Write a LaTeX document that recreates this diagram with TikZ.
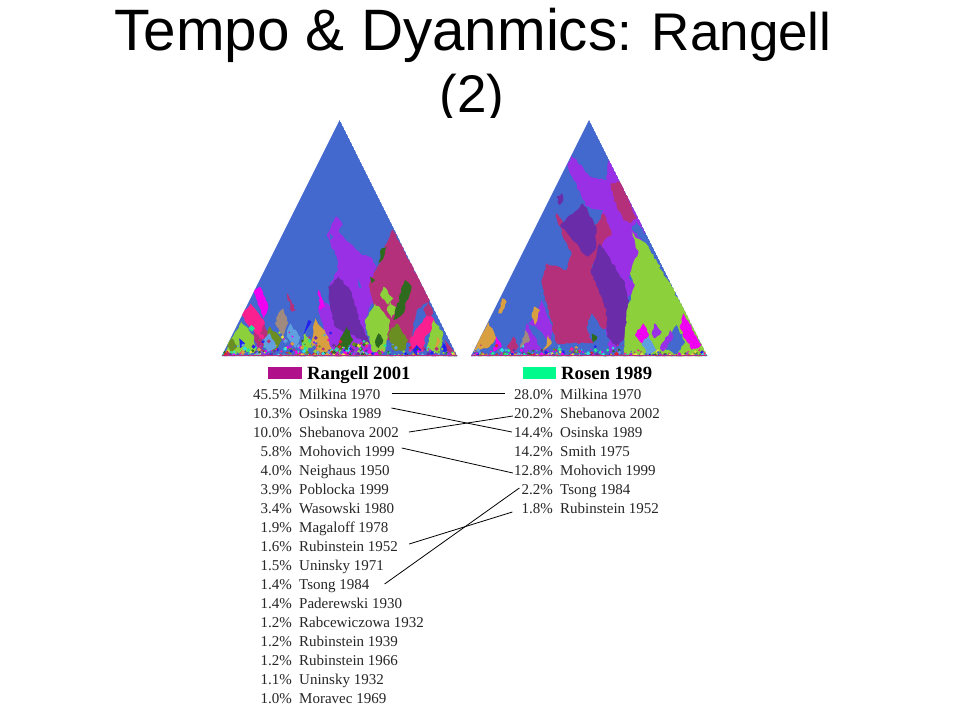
\documentclass[tikz,border=0pt]{standalone}
\usepackage{fontspec}
\usetikzlibrary{decorations.pathmorphing}
\setmainfont{Liberation Serif}
\newfontfamily\titlefont{Liberation Sans}
\definecolor{tblue}{HTML}{4368CE}
\definecolor{tpurple}{HTML}{9A30E6}
\definecolor{tcrim}{HTML}{B5307A}
\definecolor{tdark}{HTML}{6A2CA8}
\definecolor{tgreen}{HTML}{8CD03C}
\definecolor{tmag}{HTML}{F000F0}
\definecolor{tpink}{HTML}{FB2090}
\definecolor{ttan}{HTML}{D8A040}
\definecolor{tdgreen}{HTML}{2E6B1E}
\definecolor{tolive}{HTML}{6B8E23}
\definecolor{ttaupe}{HTML}{A08A80}
\definecolor{tcyan}{HTML}{30E0E0}
\definecolor{tsky}{HTML}{60A0E0}
\definecolor{tyel}{HTML}{E8E040}
\definecolor{tred}{HTML}{E02030}
\definecolor{tbright}{HTML}{2020F0}
\definecolor{tmint}{HTML}{20E890}
\definecolor{swatchL}{HTML}{B0108A}
\definecolor{swatchR}{HTML}{00FA8C}
\pgfmathdeclarerandomlist{cols}{{tmag}{tpink}{tgreen}{ttan}{tdgreen}{tolive}{tcyan}{tsky}{tyel}{tred}{tbright}{tmint}{tcrim}{tpurple}{tdark}{tblue}}
\newcommand{\speckle}[4]{% count, xmin, xmax, maxheight
  \foreach \k in {1,...,#1}{
    \pgfmathsetmacro\rx{#2+(#3-#2)*rnd}
    \pgfmathsetmacro\ry{734-#4*rnd*rnd}
    \pgfmathsetmacro\rs{2+5*rnd}
    \pgfmathrandomitem{\rc}{cols}
    \fill[\rc] (\rx,\ry) -- ++(\rs,\rs) -- ++(-\rs,\rs) -- ++(-\rs,-\rs) -- cycle;
  }}
\tikzset{
  pct/.style={anchor=base east,inner sep=0pt,text height=10pt,text depth=3pt,font=\fontsize{15}{16}\selectfont,text=black!85},
  nam/.style={anchor=base west,inner sep=0pt,text height=10pt,text depth=3pt,font=\fontsize{15}{16}\selectfont,text=black!85},
  head/.style={anchor=base west,inner sep=0pt,font=\bfseries\fontsize{18.7}{20}\selectfont},
  link/.style={draw=black,line width=0.8pt},
  patch/.style={x=0.33333pt,y=-0.33333pt},
  rough/.style={decorate,decoration={random steps,segment length=3pt,amplitude=1.1pt}}
}
\begin{document}
\begin{tikzpicture}[x=1pt,y=-1pt]
\useasboundingbox (0,0) rectangle (960,720);
\fill[white] (0,0) rectangle (960,720);
% title
\node[anchor=base,inner sep=0pt,font=\titlefont] (t1) at (473,50) {\fontsize{58.4}{60}\selectfont Tempo \& Dyanmics\fontsize{53}{60}\selectfont: Rangell};
\node[anchor=base,inner sep=0pt,font=\titlefont] (t2) at (472,112.5) {\fontsize{53}{60}\selectfont (2)};
\fill[white] (220,118) rectangle (707,130);
% left triangle
\begin{scope}[shift={(210pt,-110pt)},patch]
\clip (389,30) -- (742,738) -- (35,738) -- cycle;
\fill[tblue] (389,30) -- (742,738) -- (35,738) -- cycle;
\pgfmathsetseed{3}
\fill[tpurple,rough] (380,320) -- (398,345) -- (385,362) -- (420,400) -- (450,430) -- (480,440) -- (500,470) -- (490,500) -- (480,520) -- (500,560) -- (475,600) -- (465,640) -- (470,680) -- (490,730) -- (350,730) -- (340,650) -- (325,590) -- (340,570) -- (365,590) -- (360,520) -- (385,480) -- (380,440) -- (350,375) -- (365,340) -- cycle;
\fill[tcrim,rough] (548,358) -- (660,570) -- (620,600) -- (600,700) -- (520,690) -- (500,620) -- (480,545) -- (478,520) -- (510,460) -- (530,400) -- cycle;
\fill[tdark,rough] (385,500) -- (420,540) -- (440,600) -- (450,640) -- (480,700) -- (400,665) -- (375,650) -- (360,590) -- (355,530) -- cycle;
\fill[tgreen,rough] (495,580) -- (540,630) -- (525,725) -- (485,725) -- (465,630) -- cycle;
\fill[tgreen,rough] (520,530) -- (550,565) -- (535,585) -- (510,555) -- cycle;
\fill[tgreen,rough] (540,575) -- (560,595) -- (545,625) -- (530,600) -- cycle;
\fill[tpink,rough] (655,605) -- (680,645) -- (645,680) -- (640,725) -- (605,720) -- (600,690) -- (625,650) -- cycle;
\fill[tcrim,rough] (655,575) -- (670,610) -- (655,620) -- (640,600) -- cycle;
\fill[tgreen,rough] (670,630) -- (700,670) -- (690,730) -- (650,720) -- (660,670) -- cycle;
\fill[tbright,rough] (695,695) -- (715,720) -- (700,730) -- cycle;
\fill[ttan,rough] (680,680) -- (690,695) -- (675,720) -- cycle;
\fill[tbright,rough] (620,705) -- (635,720) -- (620,735) -- (608,720) -- cycle;
\fill[tcrim] (705,690) -- (742,738) -- (715,738) -- cycle;
\fill[tdgreen,rough] (585,510) -- (605,530) -- (580,610) -- (550,630) -- (560,590) -- cycle;
\fill[tolive,rough] (560,640) -- (595,690) -- (585,720) -- (550,720) -- (535,670) -- cycle;
\fill[tdgreen,rough] (515,415) -- (530,410) -- (520,445) -- (505,460) -- cycle;
\fill[tdgreen] (480,500) -- (495,510) -- (485,520) -- cycle;
\fill[tdgreen,rough] (505,670) -- (520,690) -- (505,715) -- (495,695) -- cycle;
\fill[tmag,rough] (130,540) -- (150,530) -- (175,590) -- (160,625) -- cycle;
\fill[tcrim,rough] (150,625) -- (180,680) -- (150,730) -- (130,680) -- cycle;
\fill[tpink,rough] (120,580) -- (165,640) -- (155,660) -- (170,700) -- (110,640) -- (95,615) -- cycle;
\fill[tgreen,rough] (95,635) -- (130,675) -- (140,725) -- (45,735) -- (60,690) -- cycle;
\fill[tolive,rough] (65,685) -- (82,710) -- (65,730) -- (52,710) -- cycle;
\fill[tbright] (88,685) -- (105,700) -- (90,715) -- cycle;
\fill[tmint] (125,645) -- (135,655) -- (125,665) -- (115,655) -- cycle;
\fill[tcrim,rough] (230,550) -- (245,580) -- (258,600) -- (245,605) -- cycle;
\fill[ttaupe,rough] (220,595) -- (235,640) -- (220,680) -- (195,640) -- (205,610) -- cycle;
\fill[tsky,rough] (240,640) -- (270,680) -- (255,715) -- (230,680) -- cycle;
\fill[ttan,rough] (315,625) -- (350,675) -- (365,715) -- (330,735) -- (305,705) -- cycle;
\fill[tgreen,rough] (285,670) -- (305,700) -- (290,730) -- (275,700) -- cycle;
\fill[tbright] (295,630) -- (305,635) -- (280,675) -- cycle;
\fill[tolive,rough] (180,650) -- (215,690) -- (190,730) -- (165,700) -- cycle;
\fill[tsky,rough] (155,690) -- (180,670) -- (200,710) -- (170,725) -- cycle;
\fill[tdgreen,rough] (410,650) -- (430,690) -- (410,725) -- (380,710) -- cycle;
\fill[tmag,rough] (325,540) -- (345,590) -- (330,600) -- cycle;
\fill[tblue] (360,370) -- (370,380) -- (360,390) -- cycle;
\fill[tblue] (445,505) -- (455,535) -- (445,530) -- cycle;
\pgfmathsetseed{7}
\speckle{260}{40}{740}{40}
\speckle{130}{140}{470}{90}
\speckle{60}{370}{480}{55}
\fill[tcrim] (35,735) rectangle (742,738);
\end{scope}
% right triangle
\begin{scope}[shift={(460pt,-110pt)},patch]
\clip (387,30) -- (742,738) -- (33,738) -- cycle;
\fill[tblue] (387,30) -- (742,738) -- (33,738) -- cycle;
\pgfmathsetseed{5}
\fill[tpurple,rough] (322,165) -- (335,135) -- (390,200) -- (440,210) -- (445,150) -- (535,320) -- (555,365) -- (530,450) -- (505,500) -- (530,530) -- (500,570) -- (500,680) -- (450,730) -- (390,420) -- (430,300) -- (380,290) -- (365,260) -- cycle;
\fill[tcrim,rough] (450,225) -- (480,215) -- (530,325) -- (510,340) -- (490,330) -- (470,290) -- cycle;
\fill[tpurple,rough] (245,570) -- (280,660) -- (270,695) -- (230,650) -- (205,640) -- (235,600) -- cycle;
\fill[tcrim,rough] (288,310) -- (330,360) -- (370,400) -- (430,310) -- (455,370) -- (420,410) -- (395,470) -- (440,570) -- (445,640) -- (400,700) -- (290,700) -- (270,620) -- (245,520) -- (260,460) -- (320,480) -- (335,430) -- (305,370) -- cycle;
\fill[tdark,rough] (300,345) -- (340,310) -- (370,280) -- (410,350) -- (405,420) -- (380,440) -- (330,380) -- cycle;
\fill[tdark,rough] (290,260) -- (305,250) -- (310,270) -- (298,285) -- cycle;
\fill[tdark,rough] (420,400) -- (490,510) -- (510,590) -- (500,680) -- (470,710) -- (440,680) -- (440,600) -- (392,480) -- cycle;
\fill[tgreen,rough] (515,365) -- (530,385) -- (550,395) -- (570,420) -- (680,610) -- (742,738) -- (490,738) -- (500,600) -- (525,525) -- (510,490) -- (535,430) -- (525,395) -- cycle;
\fill[tblue,rough] (530,330) -- (555,375) -- (548,392) -- (515,358) -- cycle;
\fill[tmag,rough] (670,610) -- (725,705) -- (695,720) -- (660,655) -- cycle;
\fill[tblue,rough] (650,645) -- (675,695) -- (650,735) -- (610,710) -- cycle;
\fill[tpurple,rough] (630,660) -- (640,680) -- (610,725) -- (600,715) -- cycle;
\fill[tblue,rough] (395,610) -- (450,690) -- (410,730) -- (380,650) -- cycle;
\fill[tdgreen,rough] (395,670) -- (412,680) -- (400,700) -- cycle;
\fill[tmag,rough] (550,640) -- (568,675) -- (545,700) -- (525,675) -- cycle;
\fill[tsky,rough] (565,675) -- (590,720) -- (565,735) -- (545,705) -- cycle;
\fill[tpurple,rough] (585,640) -- (605,665) -- (585,685) -- (575,670) -- cycle;
\fill[ttan,rough] (85,635) -- (110,685) -- (80,715) -- (40,725) -- (65,670) -- cycle;
\fill[ttan,rough] (125,565) -- (140,575) -- (125,610) -- (115,610) -- cycle;
\fill[ttan,rough] (225,590) -- (240,600) -- (225,645) -- (215,620) -- cycle;
\fill[tmag,rough] (110,680) -- (125,710) -- (100,725) -- cycle;
\fill[tcrim,rough] (160,680) -- (175,710) -- (155,730) -- (140,710) -- cycle;
\fill[tpurple,rough] (200,640) -- (245,720) -- (190,720) -- cycle;
\fill[ttaupe,rough] (195,660) -- (210,690) -- (180,715) -- cycle;
\fill[ttan,rough] (265,675) -- (275,700) -- (250,725) -- cycle;
\pgfmathsetseed{11}
\speckle{230}{33}{500}{35}
\speckle{90}{500}{740}{18}
\fill[tcrim] (33,735) rectangle (742,738);
\end{scope}
% legend headers
\fill[swatchL] (268,367) rectangle (302,379);
\node[head] (hl) at (307,379) {Rangell 2001};
\fill[swatchR] (523,367) rectangle (556,379);
\node[head] (hr) at (561,379) {Rosen 1989};
% left list
\foreach \i/\p/\n in {1/45.5/Milkina 1970,2/10.3/Osinska 1989,3/10.0/Shebanova 2002,4/5.8/Mohovich 1999,5/4.0/Neighaus 1950,6/3.9/Poblocka 1999,7/3.4/Wasowski 1980,8/1.9/Magaloff 1978,9/1.6/Rubinstein 1952,10/1.5/Uninsky 1971,11/1.4/Tsong 1984,12/1.4/Paderewski 1930,13/1.2/Rabcewiczowa 1932,14/1.2/Rubinstein 1939,15/1.2/Rubinstein 1966,16/1.1/Uninsky 1932,17/1.0/Moravec 1969}{
  \pgfmathsetmacro\yy{399+19*(\i-1)}
  \node[pct] (lp\i) at (292,\yy) {\p\%};
  \node[nam] (ln\i) at (299,\yy) {\n};
}
% right list
\foreach \i/\p/\n in {1/28.0/Milkina 1970,2/20.2/Shebanova 2002,3/14.4/Osinska 1989,4/14.2/Smith 1975,5/12.8/Mohovich 1999,6/2.2/Tsong 1984,7/1.8/Rubinstein 1952}{
  \pgfmathsetmacro\yy{399+19*(\i-1)}
  \node[pct] (rp\i) at (553,\yy) {\p\%};
  \node[nam] (rn\i) at (560,\yy) {\n};
}
% connectors
\draw[link] ([shift={(11,-2.5)}]ln1.east) -- ([shift={(-9,-2.5)}]rp1.west);
\draw[link] ([shift={(10,-6.5)}]ln2.east) -- ([shift={(-2,-1.5)}]rp3.west);
\draw[link] ([shift={(10,-1.5)}]ln3.east) -- ([shift={(-1,1.5)}]rp2.west);
\draw[link] ([shift={(7,-4.5)}]ln4.east) -- ([shift={(-1,1.5)}]rp5.west);
\draw[link] ([shift={(11,-3.5)}]ln9.east) -- ([shift={(-9,2.5)}]rp7.west);
\draw[link] ([shift={(15,-1.5)}]ln11.east) -- ([shift={(-2,-2.5)}]rp6.west);
\end{tikzpicture}
\end{document}
